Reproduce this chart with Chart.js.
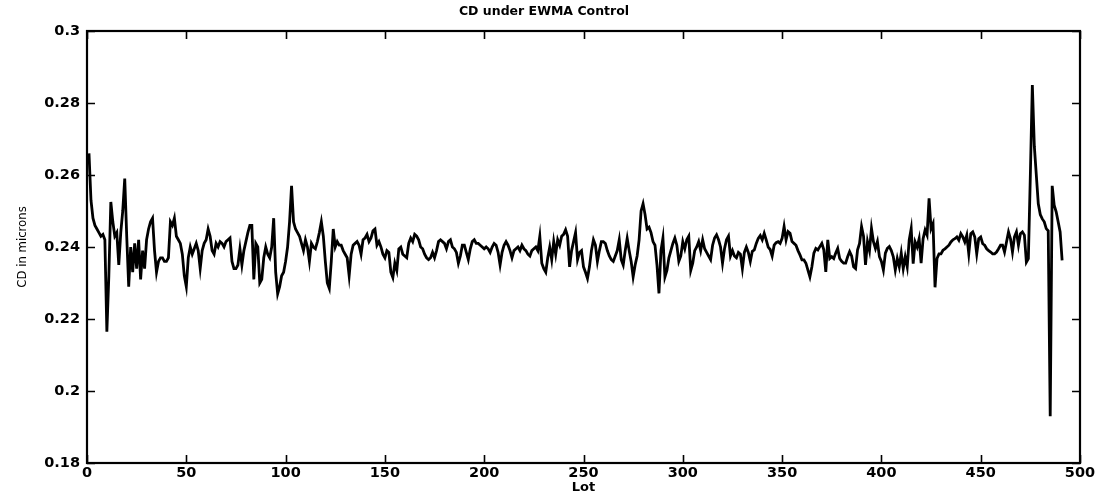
<!DOCTYPE html>
<html>
<head>
<meta charset="utf-8">
<script src="https://cdn.jsdelivr.net/npm/chart.js@4/dist/chart.umd.min.js"></script>
<style>
  html, body { margin: 0; padding: 0; background: #fff; }
  #wrap { width: 1099px; height: 495px; }
</style>
</head>
<body>
<div id="wrap"><canvas id="cd" width="1099" height="495"></canvas></div>
<script>
// Critical dimension (microns) per lot, lots 1-491, in blocks of 100
const cdLots001to100 = [
  0.266,0.253,0.248,0.246,0.245,0.244,0.243,0.2435,0.242,0.2165,
  0.232,0.2525,0.247,0.243,0.244,0.235,0.244,0.250,0.259,0.243,
  0.229,0.240,0.233,0.241,0.234,0.242,0.231,0.239,0.234,0.242,
  0.245,0.247,0.248,0.239,0.233,0.236,0.237,0.237,0.236,0.236,
  0.237,0.247,0.246,0.248,0.243,0.242,0.241,0.238,0.232,0.229,
  0.237,0.240,0.238,0.2395,0.241,0.239,0.234,0.239,0.241,0.242,
  0.245,0.243,0.239,0.238,0.241,0.240,0.2415,0.241,0.240,0.2415,
  0.242,0.2425,0.236,0.234,0.234,0.235,0.2395,0.235,0.239,0.2415,
  0.244,0.246,0.246,0.231,0.241,0.240,0.230,0.231,0.237,0.240,
  0.238,0.237,0.240,0.248,0.233,0.227,0.229,0.232,0.233,0.236
];
const cdLots101to200 = [
  0.240,0.247,0.257,0.247,0.245,0.244,0.243,0.241,0.239,0.242,
  0.240,0.236,0.241,0.240,0.2395,0.2415,0.244,0.247,0.243,0.236,
  0.230,0.2285,0.236,0.245,0.240,0.2415,0.2405,0.2405,0.239,0.238,
  0.237,0.232,0.238,0.2405,0.241,0.2415,0.2405,0.238,0.242,0.2425,
  0.2435,0.2415,0.2425,0.2445,0.245,0.2405,0.2415,0.240,0.238,0.237,
  0.239,0.2385,0.233,0.2315,0.2355,0.2335,0.2395,0.240,0.238,0.2375,
  0.237,0.241,0.2425,0.2415,0.2435,0.243,0.242,0.240,0.2395,0.238,
  0.237,0.2365,0.237,0.2385,0.237,0.239,0.2415,0.242,0.2415,0.241,
  0.2395,0.2415,0.242,0.240,0.2395,0.2385,0.2355,0.2375,0.2405,0.2405,
  0.2385,0.2365,0.2395,0.2415,0.242,0.241,0.241,0.2405,0.240,0.2395
];
const cdLots201to300 = [
  0.240,0.2395,0.2385,0.240,0.241,0.2405,0.2385,0.235,0.2385,0.2405,
  0.2415,0.2405,0.239,0.237,0.239,0.2395,0.240,0.239,0.2405,0.2395,
  0.239,0.238,0.2375,0.239,0.2395,0.240,0.239,0.243,0.2355,0.234,
  0.233,0.237,0.240,0.2365,0.2415,0.238,0.242,0.2405,0.243,0.2435,
  0.2448,0.243,0.2345,0.239,0.2415,0.244,0.2365,0.2385,0.239,0.2345,
  0.233,0.2313,0.2345,0.239,0.242,0.2405,0.236,0.239,0.2415,0.2415,
  0.241,0.239,0.2375,0.2365,0.236,0.2375,0.239,0.242,0.2365,0.235,
  0.239,0.2424,0.239,0.236,0.2317,0.235,0.2375,0.242,0.250,0.252,
  0.249,0.245,0.2455,0.244,0.2415,0.2405,0.235,0.2271,0.239,0.2425,
  0.2317,0.2335,0.237,0.239,0.241,0.2425,0.2405,0.236,0.2375,0.2415
];
const cdLots301to400 = [
  0.2395,0.242,0.243,0.2335,0.2355,0.239,0.240,0.2415,0.239,0.242,
  0.2395,0.2385,0.2375,0.2365,0.2405,0.2425,0.2434,0.242,0.240,0.2355,
  0.2395,0.242,0.243,0.2375,0.239,0.2375,0.237,0.2385,0.238,0.234,
  0.2385,0.240,0.2385,0.236,0.2388,0.2392,0.241,0.2424,0.2432,0.242,
  0.2438,0.242,0.240,0.2393,0.2375,0.2405,0.2412,0.2415,0.241,0.2424,
  0.2457,0.242,0.2443,0.2438,0.2415,0.241,0.2405,0.239,0.2378,0.2364,
  0.2364,0.2355,0.2336,0.2317,0.2345,0.2383,0.2396,0.2392,0.2401,0.241,
  0.2392,0.2331,0.242,0.2368,0.2373,0.2368,0.2383,0.2396,0.2368,0.236,
  0.2355,0.2355,0.2373,0.2387,0.2375,0.2345,0.234,0.2392,0.241,0.2457,
  0.243,0.235,0.2415,0.239,0.2452,0.2415,0.2396,0.2415,0.2373,0.236
];
const cdLots401to491 = [
  0.2336,0.2383,0.2396,0.2401,0.239,0.2373,0.2336,0.2368,0.2345,0.2383,
  0.234,0.2373,0.2345,0.242,0.2451,0.2354,0.2414,0.240,0.2423,0.2355,
  0.2423,0.2447,0.2433,0.2535,0.2451,0.2465,0.2288,0.2368,0.2381,0.2381,
  0.2391,0.2395,0.240,0.2405,0.2414,0.242,0.2423,0.2428,0.2419,0.2437,
  0.2428,0.2414,0.2433,0.2381,0.2437,0.2442,0.2428,0.2381,0.2423,0.2428,
  0.2409,0.2405,0.2395,0.239,0.2386,0.2381,0.2381,0.2386,0.2395,0.2405,
  0.2405,0.2386,0.2414,0.2442,0.2423,0.2386,0.2428,0.2442,0.2405,0.2437,
  0.2442,0.2433,0.2358,0.2368,0.260,0.285,0.268,0.260,0.252,0.249,
  0.2478,0.247,0.2451,0.2445,0.193,0.257,0.2516,0.2498,0.247,0.2442,
  0.2363
];

const firstLot = 1;
const xTickStep = 50;
const yTickStep = 0.02;
const xRange = [0, 500];
const yRange = [0.18, 0.3];

const cdValues = [].concat(cdLots001to100, cdLots101to200, cdLots201to300,
                           cdLots301to400, cdLots401to491);
const cdPoints = cdValues.map((v, i) => ({ x: firstLot + i, y: v }));

const family = '"DejaVu Sans", "Liberation Sans", sans-serif';
const tickFont = { family, size: 14.5, weight: 'bold' };
const titleFont = { family, size: 12.5, weight: 'bold' };

// MATLAB-style frame: full box with tick marks pointing inwards on all four sides
const innerTicks = {
  id: 'innerTicks',
  afterDatasetsDraw(chart) {
    const { ctx, chartArea: a, scales: { x, y } } = chart;
    const len = 8;
    ctx.save();
    ctx.strokeStyle = '#000';
    ctx.lineWidth = 1.6;
    ctx.beginPath();
    x.ticks.forEach(t => {
      const px = Math.round(x.getPixelForValue(t.value)) + 0.5;
      ctx.moveTo(px, a.bottom); ctx.lineTo(px, a.bottom - len);
      ctx.moveTo(px, a.top);    ctx.lineTo(px, a.top + len);
    });
    y.ticks.forEach(t => {
      const py = Math.round(y.getPixelForValue(t.value)) + 0.5;
      ctx.moveTo(a.left, py);  ctx.lineTo(a.left + len, py);
      ctx.moveTo(a.right, py); ctx.lineTo(a.right - len, py);
    });
    ctx.stroke();
    ctx.lineWidth = 2.2;
    ctx.strokeRect(a.left, a.top, a.right - a.left, a.bottom - a.top);
    ctx.restore();
  }
};

new Chart(document.getElementById('cd'), {
  type: 'line',
  data: {
    datasets: [{
      data: cdPoints,
      borderColor: '#000',
      borderWidth: 2.8,
      pointRadius: 0,
      tension: 0,
      fill: false
    }]
  },
  options: {
    responsive: false,
    animation: false,
    layout: { padding: { left: 8, right: 19, top: 0, bottom: 0 } },
    plugins: {
      legend: { display: false },
      tooltip: { enabled: false },
      title: {
        display: true,
        text: 'CD under EWMA Control',
        color: '#000',
        font: titleFont,
        padding: { top: 4, bottom: 12 }
      }
    },
    scales: {
      x: {
        type: 'linear',
        min: xRange[0], max: xRange[1],
        grid: { display: false, drawTicks: false },
        border: { display: false },
        ticks: { stepSize: xTickStep, color: '#000', font: tickFont, padding: 2, maxRotation: 0, autoSkip: false },
        title: { display: true, text: 'Lot', color: '#000', font: { family, size: 13, weight: 'bold' }, padding: { top: 0, bottom: 0 } },
        afterFit(s) { s.height = 32; }
      },
      y: {
        min: yRange[0], max: yRange[1],
        grid: { display: false, drawTicks: false },
        border: { display: false },
        ticks: {
          stepSize: yTickStep, color: '#000', font: tickFont, padding: 7,
          callback: v => String(+v.toFixed(2))
        },
        title: {
          display: true, text: 'CD in microns', color: '#000',
          font: { family: '"Liberation Sans Narrow", "DejaVu Sans Condensed", sans-serif', size: 13 },
          padding: { top: 7, bottom: 0 }
        },
        afterFit(s) { s.width = 79; }
      }
    }
  },
  plugins: [innerTicks]
});
</script>
</body>
</html>
